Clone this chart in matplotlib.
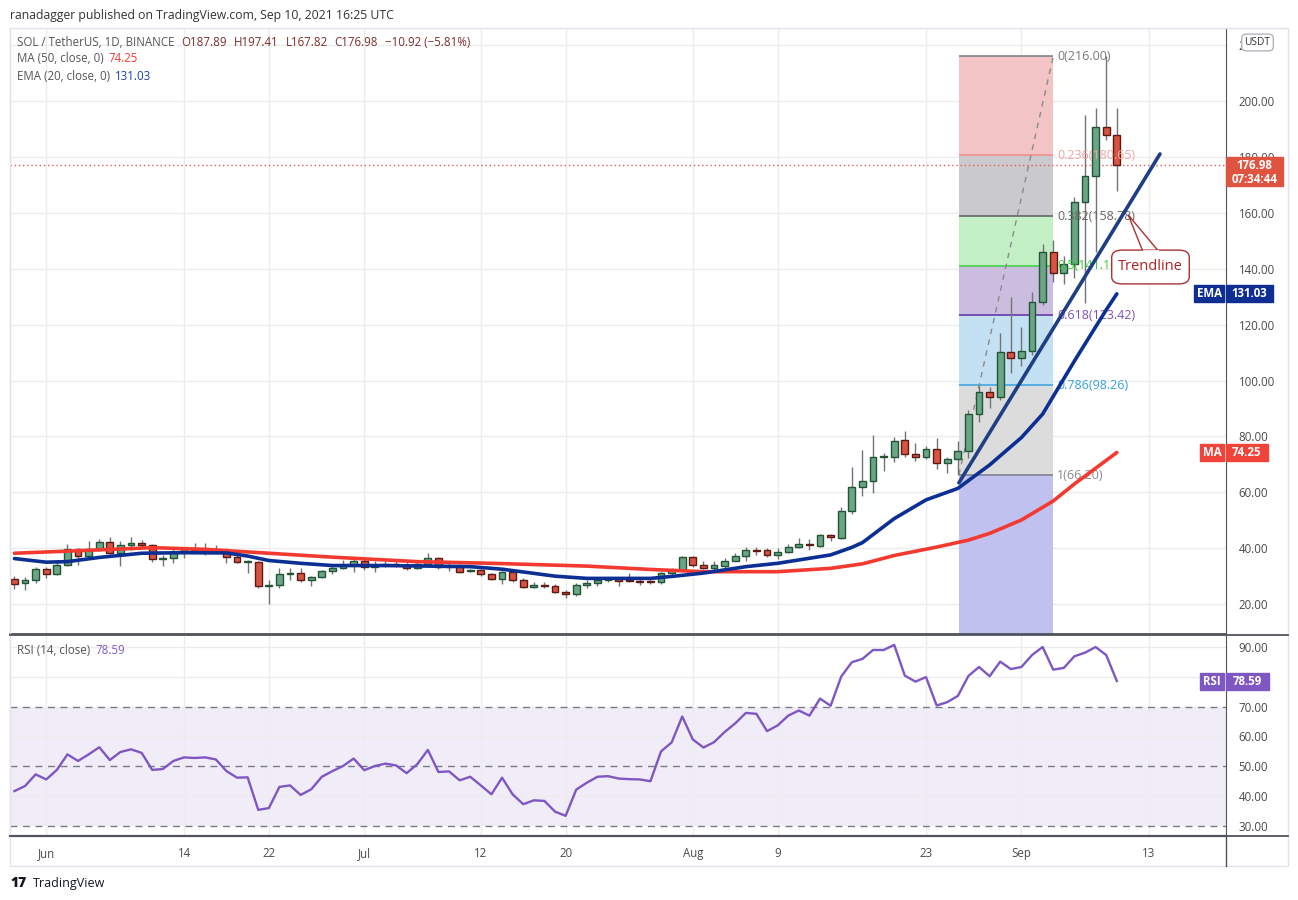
import matplotlib
matplotlib.use("Agg")
import matplotlib.pyplot as plt
from matplotlib.patches import FancyBboxPatch, Polygon, Rectangle
from matplotlib.lines import Line2D

plt.rcParams['font.family'] = ['Open Sans', 'DejaVu Sans']

W, H = 1298, 900

# SOL/USDT daily candles, index 0 = May 29 2021 ... index 104 = Sep 10 2021
opens = [28.9, 27.4, 28.5, 32.4, 30.6, 33.9, 39.6, 37.1, 39.6, 42.1,
         38.2, 41.0, 41.7, 41.0, 36.0, 36.4, 38.5, 39.6, 39.2, 39.6,
         39.2, 36.7, 35.0, 35.2, 26.4, 26.7, 30.6, 31.0, 28.5, 29.6,
         31.7, 32.8, 33.9, 35.3, 33.2, 33.9, 34.2, 33.9, 32.8, 34.2,
         36.4, 33.2, 33.5, 31.7, 32.1, 30.6, 28.9, 31.4, 28.5, 26.0,
         26.7, 26.4, 24.2, 23.5, 26.7, 27.4, 28.5, 28.9, 28.5, 28.2,
         28.2, 27.8, 31.0, 32.1, 36.7, 33.9, 33.0, 33.7, 35.6, 37.1,
         39.5, 39.2, 37.5, 38.5, 40.3, 41.4, 40.7, 44.6, 43.5, 53.2,
         61.8, 63.9, 72.5, 72.5, 78.6, 73.6, 72.5, 75.4, 70.4, 71.8,
         74.7, 87.9, 95.8, 94.0, 110.1, 108.0, 110.4, 128.2, 145.9, 138.4,
         141.6, 163.8, 173.2, 190.6, 187.89]
highs = [30.0, 29.6, 33.4, 33.4, 35.1, 41.5, 40.0, 42.6, 43.3, 44.0,
         42.6, 44.0, 42.9, 41.4, 37.7, 39.6, 40.3, 41.7, 41.7, 41.0,
         40.0, 37.5, 35.7, 35.3, 28.5, 32.8, 32.8, 32.8, 29.9, 32.1,
         34.2, 35.7, 36.0, 36.0, 35.3, 35.3, 35.3, 35.0, 35.0, 38.2,
         36.7, 34.6, 34.2, 32.4, 32.4, 31.0, 31.7, 31.7, 29.2, 27.8,
         27.8, 27.1, 24.9, 27.4, 28.5, 29.6, 29.6, 29.6, 31.0, 28.9,
         28.5, 31.4, 32.8, 37.1, 37.1, 35.5, 35.5, 36.6, 38.2, 40.3,
         40.6, 40.0, 40.0, 41.4, 43.5, 43.2, 45.0, 45.0, 54.6, 68.9,
         75.0, 80.4, 74.0, 79.7, 81.8, 77.5, 76.5, 79.3, 72.5, 78.3,
         89.5, 98.0, 97.6, 116.9, 130.0, 119.3, 131.8, 148.9, 150.3, 144.7,
         165.8, 195.0, 197.4, 216.0, 197.41]
lows = [25.5, 25.2, 27.4, 29.5, 30.3, 33.5, 33.9, 36.4, 38.9, 37.8,
        33.5, 39.2, 40.3, 35.0, 33.8, 34.6, 36.4, 38.5, 37.5, 38.2,
        34.6, 34.6, 31.0, 25.6, 19.9, 25.6, 28.5, 27.8, 26.4, 29.2,
        30.6, 32.4, 31.4, 32.1, 31.4, 33.2, 33.2, 32.1, 32.4, 33.5,
        32.4, 31.7, 31.0, 31.4, 29.9, 28.5, 27.1, 27.8, 25.6, 25.6,
        25.6, 23.9, 22.1, 22.8, 25.6, 26.4, 27.8, 26.4, 27.8, 26.7,
        27.1, 27.1, 30.3, 31.7, 33.2, 32.7, 32.0, 33.0, 35.3, 35.3,
        37.5, 36.7, 36.0, 38.2, 40.0, 39.2, 40.3, 42.5, 43.2, 52.1,
        58.6, 59.6, 67.8, 70.7, 72.5, 71.1, 71.8, 68.2, 66.8, 66.2,
        72.2, 85.3, 90.0, 93.0, 102.8, 105.3, 109.1, 127.0, 135.4, 134.4,
        136.6, 127.6, 146.1, 186.0, 167.82]
closes = [27.1, 28.5, 32.4, 30.6, 33.9, 39.6, 37.1, 39.6, 42.1, 38.2,
          41.0, 41.7, 41.0, 36.0, 36.4, 38.5, 39.6, 39.2, 39.6, 39.2,
          36.7, 35.0, 35.2, 26.4, 26.7, 30.6, 31.0, 28.5, 29.6, 31.7,
          32.8, 33.9, 35.3, 33.2, 33.9, 34.2, 33.9, 32.8, 34.2, 36.4,
          33.2, 33.5, 31.4, 32.1, 30.6, 28.9, 31.4, 28.5, 26.0, 26.7,
          26.4, 24.2, 23.5, 26.7, 27.4, 28.5, 28.9, 28.2, 28.2, 27.8,
          27.8, 31.0, 32.1, 36.7, 33.9, 33.0, 33.9, 35.6, 37.1, 39.2,
          39.1, 37.5, 38.5, 40.3, 41.4, 41.0, 44.6, 43.9, 53.2, 61.8,
          63.9, 72.5, 72.6, 78.3, 73.6, 72.5, 75.4, 70.4, 71.8, 74.7,
          87.9, 95.8, 94.0, 110.1, 108.0, 110.4, 128.2, 145.9, 138.4, 141.6,
          163.8, 173.2, 190.6, 187.90, 176.98]

rsi = [41.7, 43.4, 47.3, 45.6, 48.8, 54.0, 51.8, 54.0, 56.4, 52.1,
       54.8, 55.7, 54.5, 48.8, 49.1, 51.8, 53.0, 52.8, 53.0, 52.3,
       48.4, 46.2, 46.3, 35.4, 36.0, 43.1, 43.6, 40.4, 42.3, 46.5,
       48.4, 50.1, 52.6, 48.7, 50.1, 50.9, 50.3, 47.7, 50.7, 55.5,
       48.1, 48.3, 45.3, 46.5, 43.6, 40.6, 46.2, 40.6, 37.3, 38.6,
       38.4, 34.8, 33.4, 42.2, 44.5, 46.5, 46.7, 45.9, 45.7, 45.6,
       45.0, 55.0, 58.0, 66.7, 59.0, 56.3, 58.1, 61.5, 64.4, 67.9,
       67.6, 61.8, 63.7, 67.0, 68.7, 67.0, 72.7, 70.3, 80.1, 84.9,
       86.0, 89.0, 89.0, 90.7, 80.4, 78.4, 79.9, 70.4, 71.5, 73.6,
       80.3, 83.3, 80.2, 85.1, 82.6, 83.3, 87.3, 90.0, 82.4, 83.0,
       86.9, 88.1, 90.0, 87.3, 78.59]

# EMA 20 and MA 50 at these candle indexes
ema_idx = [0, 3, 5, 8, 12, 16, 20, 22, 24, 27, 30, 35, 43, 46, 51, 54, 60, 62,
           65, 69, 72, 77, 79, 80, 83, 86, 89, 92, 95, 97, 100, 103, 104]
ema_val = [36.3, 35.0, 35.2, 36.7, 38.2, 38.4, 38.3, 37.2, 35.6, 34.6, 33.8, 33.8,
           33.4, 32.5, 30.0, 29.2, 29.2, 29.9, 31.1, 33.4, 34.6, 37.6, 40.3, 42.0,
           50.6, 57.3, 61.4, 69.8, 79.6, 88.0, 107.0, 125.3, 131.03]
ma_idx = [0, 8, 13, 18, 24, 30, 38, 45, 54, 60, 65, 72, 77, 80, 83, 87, 90, 92,
          95, 98, 100, 104]
ma_val = [38.2, 39.4, 40.2, 39.6, 38.2, 36.8, 35.2, 34.6, 33.6, 32.4, 31.6, 31.6,
          32.8, 34.4, 37.4, 40.4, 42.9, 45.3, 50.1, 56.9, 63.0, 74.25]

date_ticks = [3, 16, 24, 33, 44, 52, 64, 72, 86, 95, 107]
date_labels = ['Jun', '14', '22', 'Jul', '12', '20', 'Aug', '9', '23', 'Sep', '13']

# fib retracement tool
fib_high, fib_low = 216.00, 66.20
fib_ratios = [0, 0.236, 0.382, 0.5, 0.618, 0.786, 1]
fib_x0, fib_x1 = 89.1, 98.0
fib_fill = ['#f2c4c4', '#cacace', '#c3efc4', '#cbbde0', '#c3e1f3', '#dcdcdc', '#c1c1f0']
fib_line = ['#787b86', '#f08a8a', '#5d5d5d', '#3ccf3c', '#5e2ca5', '#35a2e0', '#787b86']
fib_text = ['#777777', '#f4a3a3', '#666666', '#3ccf3c', '#7e4fb8', '#35a2e0', '#888888']

trend_x = [89.1, 108.07]
trend_y = [63.4, 181.1]

up_fill, up_edge = '#6ba583', '#225437'
dn_fill, dn_edge = '#d75442', '#5b1a13'
wick = '#737375'
grid_c = '#ececec'
axis_c = '#50535e'
frame_c = '#e0e3eb'
txt_c = '#4a4a4a'
FS = 8.3


def rect(l, t, r, b):
    return [l / W, 1 - b / H, (r - l) / W, (b - t) / H]


def fx(x):
    return x / W


def fy(y):
    return 1 - y / H


fig = plt.figure(figsize=(W / 100, H / 100), dpi=100)
fig.patch.set_facecolor('white')
renderer = fig.canvas.get_renderer()

ax = fig.add_axes(rect(10, 28, 1226, 634))
ax2 = fig.add_axes(rect(10, 636, 1226, 836))

for a in (ax, ax2):
    a.set_xlim(-0.42, 114.3)
    a.set_xticks(date_ticks)
    a.set_axisbelow(True)
    a.grid(axis='x', color=grid_c, lw=1, zorder=0)
    a.yaxis.tick_right()
    a.tick_params(axis='y', length=0, pad=9, labelsize=FS, labelcolor=txt_c)
    a.spines['left'].set_color(frame_c)
    a.spines['top'].set_visible(False)
    a.spines['right'].set_color(axis_c)
    a.spines['bottom'].set_color(axis_c)
    a.spines['bottom'].set_linewidth(1.3)

# ---- main pane
ax.set_ylim(9.3, 226.17)
yt = list(range(20, 221, 20))
ax.set_yticks(yt, ['%.2f' % v for v in yt])
ax.grid(axis='y', color=grid_c, lw=1, zorder=0)
ax.tick_params(axis='x', length=0, labelbottom=False)

# fib zones
lv = [fib_high - r * (fib_high - fib_low) for r in fib_ratios]
for k in range(len(lv) - 1):
    ax.fill_between([fib_x0, fib_x1], lv[k + 1], lv[k], color=fib_fill[k], lw=0, zorder=1)
ax.fill_between([fib_x0, fib_x1], fib_high - 1.618 * (fib_high - fib_low), lv[-1],
                color=fib_fill[-1], lw=0, zorder=1)
for k, r in enumerate(fib_ratios):
    ax.hlines(lv[k], fib_x0, fib_x1, color=fib_line[k], lw=1.1, zorder=2)
    ax.text(fib_x1 + 0.35, lv[k], '%g(%.2f)' % (r, lv[k]), color=fib_text[k],
            fontsize=9, va='center', ha='left', zorder=5)
ax.plot([fib_x0, fib_x1], [fib_low, fib_high], color='#8a8a8a', lw=1,
        ls=(0, (4, 4)), zorder=2)

# candles
for i in range(len(closes)):
    o, h, l, c = opens[i], highs[i], lows[i], closes[i]
    up = c >= o
    ax.vlines(i, l, h, color=wick, lw=1, zorder=3)
    ax.bar(i, max(abs(c - o), 0.35), bottom=min(o, c), width=0.64,
           color=up_fill if up else dn_fill, edgecolor=up_edge if up else dn_edge,
           lw=1, zorder=4)

ax.plot(ma_idx, ma_val, color='#f23a31', lw=2.6, zorder=5, solid_capstyle='round')
ax.plot(ema_idx, ema_val, color='#0c2f93', lw=2.6, zorder=5, solid_capstyle='round')
ax.plot(trend_x, trend_y, color='#1f3f85', lw=2.6, zorder=6, solid_capstyle='round')
ax.axhline(closes[-1], color='#ef5350', lw=1, ls=(0, (1, 2)), zorder=3)

# ---- RSI pane
ax2.set_ylim(26.64, 93.69)
rt = list(range(30, 91, 10))
ax2.set_yticks(rt, ['' if v == 80 else '%.2f' % v for v in rt])
ax2.axhspan(30, 70, color='#7e57c2', alpha=0.1, lw=0, zorder=0)
for v in (40, 60, 80, 90):
    ax2.axhline(v, color=grid_c, lw=1, zorder=0.5)
for v in (30, 50, 70):
    ax2.axhline(v, color='#787b86', lw=1, ls=(0, (5, 4)), zorder=1)
ax2.plot(range(len(rsi)), rsi, color='#7e57c2', lw=1.7, zorder=3)
ax2.set_xticks(date_ticks, date_labels)
ax2.tick_params(axis='x', length=0, pad=8, labelsize=FS, labelcolor=txt_c)
ax2.spines['bottom'].set_linewidth(1.6)

# ---- frame and separators
fig.patches.append(Rectangle((fx(10), fy(866)), (1288 - 10) / W, (866 - 28) / H,
                             transform=fig.transFigure, fill=False, ec=frame_c, lw=1))
for y in (634.5, 836):
    fig.lines.append(Line2D([fx(10), fx(1288)], [fy(y), fy(y)], transform=fig.transFigure,
                            color=axis_c, lw=1.3))
fig.lines.append(Line2D([fx(1226), fx(1226)], [fy(836), fy(866)], transform=fig.transFigure,
                        color=axis_c, lw=1))


def yfig(a, v):
    return a.transData.transform((0, v))[1] / fig.bbox.height


def tag(a, v, x0, x1, color, label, h=17):
    yc = yfig(a, v)
    hh = h / H
    fig.patches.append(Rectangle((fx(x0), yc - hh / 2), (x1 - x0) / W, hh,
                                 transform=fig.transFigure, color=color, zorder=20))
    fig.text(fx((x0 + x1) / 2), yc, label, color='white', fontsize=FS, fontweight='bold',
             ha='center', va='center', zorder=21)


tag(ax, ema_val[-1], 1194, 1224, '#0f2e91', 'EMA')
tag(ax, ema_val[-1], 1226, 1273, '#0f2e91', '%.2f' % ema_val[-1])
tag(ax, ma_val[-1], 1200, 1224, '#f0443a', 'MA')
tag(ax, ma_val[-1], 1226, 1268, '#f0443a', '%.2f' % ma_val[-1])
tag(ax2, rsi[-1], 1200, 1224, '#7e57c2', 'RSI')
tag(ax2, rsi[-1], 1226, 1269, '#7e57c2', '%.2f' % rsi[-1])

# last price tag with countdown underneath
yc = yfig(ax, closes[-1])
fig.patches.append(Rectangle((fx(1226), yc - 21 / H), 57 / W, 29 / H,
                             transform=fig.transFigure, color='#df5440', zorder=20))
fig.text(fx(1254.5), yc, '%.2f' % closes[-1], color='white', fontsize=FS,
         fontweight='bold', ha='center', va='center', zorder=21)
fig.text(fx(1254.5), yc - 14 / H, '07:34:44', color='white', fontsize=FS,
         fontweight='bold', ha='center', va='center', zorder=21)

# currency box
fig.patches.append(FancyBboxPatch((fx(1243), fy(50)), 29 / W, 15 / H,
                                  boxstyle='round,pad=0.001,rounding_size=0.004',
                                  transform=fig.transFigure, fc='white', ec='#b2b5be',
                                  lw=1, zorder=20))
fig.text(fx(1257.5), fy(42.5), 'USDT', color='#333333', fontsize=7.3, ha='center',
         va='center', zorder=21)

# trendline callout
ptr = [(fx(1142.7), fy(251)), (fx(1128.3), fy(215)), (fx(1158.3), fy(251))]
fig.patches.append(Polygon(ptr, closed=True, transform=fig.transFigure, fc='white',
                           ec='#a83232', lw=1, zorder=10))
fig.patches.append(FancyBboxPatch((fx(1113), fy(283)), 75 / W, 32 / H,
                                  boxstyle='round,pad=0.001,rounding_size=0.008',
                                  transform=fig.transFigure, fc='white', ec='#a83232',
                                  lw=1, zorder=11))
fig.lines.append(Line2D([fx(1143.8), fx(1157.2)], [fy(251), fy(251)],
                        transform=fig.transFigure, color='white', lw=2, zorder=12))
fig.text(fx(1150.5), fy(267), 'Trendline', color='#b22222', fontsize=10.5,
         ha='center', va='center', zorder=13)


def text_row(x, y, parts, gap=7):
    # lay out pieces of differently coloured text one after another
    for s, c in parts:
        t = fig.text(fx(x), fy(y), s, color=c, fontsize=FS, va='center')
        x += t.get_window_extent(renderer=renderer).width + gap


# header texts
fig.text(fx(10), fy(15), 'ranadagger published on TradingView.com, Sep 10, 2021 16:25 UTC',
         color='#333333', fontsize=8.8, va='center')
chg = closes[-1] - closes[-2]
val_c = '#7d2b2b'
text_row(17, 42, [('SOL / TetherUS, 1D, BINANCE', '#555555'),
                  ('O%.2f' % opens[-1], val_c), ('H%.2f' % highs[-1], val_c),
                  ('L%.2f' % lows[-1], val_c), ('C%.2f' % closes[-1], val_c),
                  ('\u2212%.2f (\u2212%.2f%%)' % (-chg, -chg / closes[-2] * 100), val_c)])
text_row(17, 59, [('MA (50, close, 0)', '#555555'), ('%.2f' % ma_val[-1], '#f23a31')], gap=5)
text_row(17, 76, [('EMA (20, close, 0)', '#555555'), ('%.2f' % ema_val[-1], '#1e3fa8')], gap=5)
text_row(17, 651, [('RSI (14, close)', '#555555'), ('%.2f' % rsi[-1], '#7e57c2')], gap=5)

# footer logo
fig.text(fx(10), fy(883), '17', color='#131722', fontsize=10, fontweight='black',
         va='center')
fig.text(fx(33), fy(883), 'TradingView', color='#131722', fontsize=9, va='center')

fig.savefig('out.png', dpi=100, facecolor='white')
